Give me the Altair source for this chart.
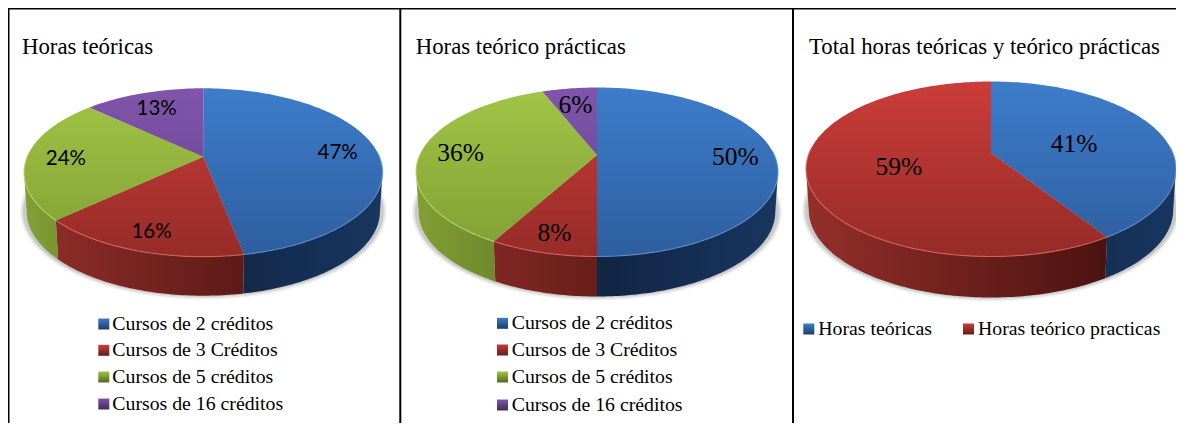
import math
import altair as alt
import pandas as pd

# ---- values
credit_names = ["Cursos de 2 créditos", "Cursos de 3 Créditos", "Cursos de 5 créditos", "Cursos de 16 créditos"]
hour_names = ["Horas teóricas", "Horas teórico practicas"]
teoricas = [47, 16, 24, 13]
teorico_practicas = [50, 8, 36, 6]
total = [41, 59]
titles = ["Horas teóricas", "Horas teórico prácticas", "Total horas teóricas y teórico prácticas"]

# ---- styles
TOP = {"b": ("#3d7dcb", "#2e5e9e"), "r": ("#cb3d39", "#962b28"), "g": ("#a2c546", "#7f9f33"), "p": ("#8055ab", "#66428c")}
WALL = {"b": ("#112544", "#183660"), "r": ("#952f2b", "#3a0c0a"), "g": ("#829f34", "#2a3a10"), "p": ("#4a2f66", "#3a2450")}
RIM = {"b": "#5f93d3", "r": "#dc6a66", "g": "#bcd86f", "p": "#9a78bd"}
SERIF = "Liberation Serif"
K = 0.46
W, H = 1168, 415

# ---- layout of each panel: ellipse, apex, wall depth, label radius, title and legend placement
panels = [
    dict(vals=teoricas, keys="brgp", names=credit_names, cx=203.3, cy=172.5, rx=179.3, ry=84.2, ay=156.7, d=39,
         frac=0.78, title=titles[0], tx=22, lab=("Lato", 20.5), leg=[(98.3, 112.3, 324), (98.3, 112.3, 350.3), (98.3, 112.3, 377), (98.3, 112.3, 404)]),
    dict(vals=teorico_practicas, keys="brgp", names=credit_names, cx=597, cy=172, rx=181, ry=84.5, ay=155, d=40,
         frac=0.78, title=titles[1], tx=415.7, lab=(SERIF, 25.5), leg=[(497, 511.7, 323.3), (497, 511.7, 350), (497, 511.7, 377), (497, 511.7, 405)]),
    dict(vals=total, keys="br", names=hour_names, cx=991, cy=169, rx=185, ry=87.5, ay=153, d=41,
         frac=0.5, title=titles[2], tx=809, lab=(SERIF, 25.5), leg=[(803.3, 818.3, 329), (963, 978, 329)]),
]


def mix(c1, c2, t):
    a = [int(c1[i:i + 2], 16) for i in (1, 3, 5)]
    b = [int(c2[i:i + 2], 16) for i in (1, 3, 5)]
    return "#%02x%02x%02x" % tuple(round(p + (q - p) * t) for p, q in zip(a, b))


def ray(p, th, scale=1.0):
    dx, dy = math.sin(th), -K * math.cos(th)
    oy = (p["ay"] - p["cy"]) / p["ry"]
    ex, ey = dx / p["rx"], dy / p["ry"]
    A = ex * ex + ey * ey
    B = 2 * oy * ey
    C = oy * oy - 1
    t = (-B + math.sqrt(B * B - 4 * A * C)) / (2 * A)
    return p["cx"] + dx * t * scale, p["ay"] + dy * t * scale


def ell(p, phi):
    return p["cx"] + p["rx"] * math.sin(phi), p["cy"] - p["ry"] * math.cos(phi)


def phi_of(p, x, y):
    f = math.atan2((x - p["cx"]) / p["rx"], -(y - p["cy"]) / p["ry"])
    return f if f >= 0 else f + 2 * math.pi


def arc(p, a, b):
    n = max(2, int((b - a) / 0.02))
    return [ell(p, a + (b - a) * i / n) for i in range(n + 1)]


def frame(pts):
    return pd.DataFrame({"x": [q[0] for q in pts], "y": [q[1] for q in pts], "i": range(len(pts))})


X = alt.X("x:Q", scale=alt.Scale(domain=[8, 8 + W], nice=False, zero=False), axis=None)
Y = alt.Y("y:Q", scale=alt.Scale(domain=[8, 8 + H], nice=False, zero=False, reverse=True), axis=None)


def shape(pts, fill=None, stroke=None, width=0, opacity=1.0):
    kw = {}
    if stroke:
        kw = dict(stroke=stroke, strokeWidth=width)
    if fill is not None:
        return alt.Chart(frame(pts)).mark_line(filled=True, fill=fill, interpolate="linear", opacity=opacity, strokeWidth=width, **kw).encode(x=X, y=Y, order="i:Q")
    return alt.Chart(frame(pts)).mark_line(interpolate="linear", opacity=opacity, **kw).encode(x=X, y=Y, order="i:Q")


def grad(c1, c2, horizontal=False):
    return alt.LinearGradient(gradient="linear", x1=0, y1=0, x2=1 if horizontal else 0, y2=0 if horizontal else 1,
                              stops=[alt.GradientStop(color=c1, offset=0), alt.GradientStop(color=c2, offset=1)])


layers = []
# frame lines of the table the charts sit in
for (x1, x2, y1, y2, w) in [(8, 8 + W, 8, 8, 3), (8, 8, 8, 8 + H, 3), (400.3, 400.3, 8, 8 + H, 2), (793, 793, 8, 8 + H, 2)]:
    layers.append(alt.Chart(pd.DataFrame({"x": [x1], "x2": [x2], "y": [y1], "y2": [y2]})).mark_rule(color="#000000", strokeWidth=w).encode(x=X, x2="x2:Q", y=Y, y2="y2:Q"))

for p in panels:
    # soft shadow below the disc
    for grow, op in [(4, 0.05), (2.5, 0.07), (1, 0.1)]:
        lower = [(p["cx"] + (p["rx"] + grow) * math.sin(f), p["cy"] + p["d"] + (p["ry"] + grow) * -math.cos(f)) for f in [i * math.pi / 90 for i in range(181)]]
        layers.append(shape(lower, fill="#000000", opacity=op))

    cum = 0.0
    slices = []
    for v, key in zip(p["vals"], p["keys"]):
        a0, a1 = cum / 100 * 2 * math.pi, (cum + v) / 100 * 2 * math.pi
        cum += v
        pa = phi_of(p, *ray(p, a0)) if a0 > 0 else 0.0
        pb = phi_of(p, *ray(p, a1)) if a1 < 2 * math.pi - 1e-6 else 2 * math.pi
        if pb == 0.0:
            pb = 2 * math.pi
        slices.append((v, key, a0, a1, pa, pb))

    # side walls
    for v, key, a0, a1, pa, pb in slices:
        lo, hi = max(pa, math.pi / 2), min(pb, 3 * math.pi / 2)
        if hi <= lo:
            continue
        upper = arc(p, lo, hi)
        shrink = 0.985
        bottom = [(p["cx"] + (x - p["cx"]) * shrink, y + p["d"]) for x, y in upper]
        pts = upper + bottom[::-1] + [upper[0]]
        xs = [q[0] for q in pts]
        t0 = (min(xs) - (p["cx"] - p["rx"])) / (2 * p["rx"])
        t1 = (max(xs) - (p["cx"] - p["rx"])) / (2 * p["rx"])
        if key == "b":
            t0, t1 = (t0 - 0.5) * 2, (t1 - 0.5) * 2
            t0 = max(t0, 0)
        c0, c1 = WALL[key]
        layers.append(shape(pts, fill=grad(mix(c0, c1, t0), mix(c0, c1, t1), horizontal=True)))

    # top of the disc
    apex = (p["cx"], p["ay"])
    for v, key, a0, a1, pa, pb in slices:
        pts = [apex] + arc(p, pa, pb) + [apex]
        ys = [q[1] for q in pts]
        t0 = (min(ys) - (p["cy"] - p["ry"])) / (2 * p["ry"])
        t1 = (max(ys) - (p["cy"] - p["ry"])) / (2 * p["ry"])
        c0, c1 = TOP[key]
        layers.append(shape(pts, fill=grad(mix(c0, c1, t0), mix(c0, c1, t1))))
    # bevel along the front rim
    for v, key, a0, a1, pa, pb in slices:
        lo, hi = max(pa, math.pi * 0.42), min(pb, math.pi * 1.58)
        if hi > lo:
            layers.append(shape(arc(p, lo, hi), stroke=RIM[key], width=1.2, opacity=0.75))

    # percentage labels: placed along each slice's mid-angle
    cum = 0.0
    rows = []
    for v in p["vals"]:
        th = (cum + v / 2) / 100 * 2 * math.pi
        cum += v
        lx, ly = ray(p, th, p["frac"])
        rows.append({"x": lx, "y": ly, "t": f"{v}%"})
    layers.append(alt.Chart(pd.DataFrame(rows)).mark_text(font=p["lab"][0], fontSize=p["lab"][1], color="#000000", baseline="middle", align="center", dy=2).encode(x=X, y=Y, text="t:N"))

    # title
    layers.append(alt.Chart(pd.DataFrame({"x": [p["tx"]], "y": [54], "t": [p["title"]]})).mark_text(font=SERIF, fontSize=22.8, color="#000000", baseline="alphabetic", align="left").encode(x=X, y=Y, text="t:N"))

    # legend
    for name, key, (mx, txt, my) in zip(p["names"], p["keys"], p["leg"]):
        c0, c1 = TOP[key][0], mix(TOP[key][1], "#000000", 0.35)
        layers.append(alt.Chart(pd.DataFrame({"x": [mx], "x2": [mx + 11], "y": [my - 5.5], "y2": [my + 5.5]})).mark_rect(fill=grad(c0, c1)).encode(x=X, x2="x2:Q", y=Y, y2="y2:Q"))
        layers.append(alt.Chart(pd.DataFrame({"x": [txt], "y": [my], "t": [name]})).mark_text(font=SERIF, fontSize=19.8, color="#000000", baseline="middle", align="left").encode(x=X, y=Y, text="t:N"))

chart = alt.layer(*layers).properties(
    width=W, height=H, padding=0, background="#ffffff",
    autosize=alt.AutoSizeParams(type="none"),
).configure_view(stroke=None)
chart.save("out.html", embed_options={"renderer": "svg", "actions": False})
